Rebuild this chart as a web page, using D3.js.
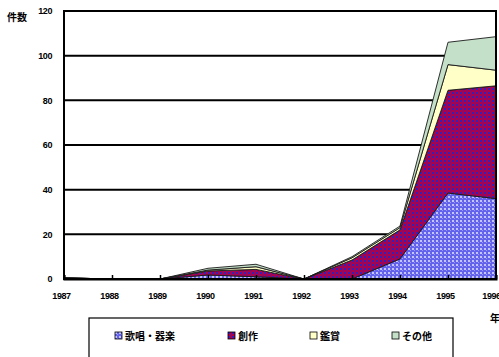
<!DOCTYPE html>
<html>
<head>
<meta charset="utf-8">
<script src="https://cdn.jsdelivr.net/npm/d3@7"></script>
<style>
  html, body { margin: 0; padding: 0; background: #fff; }
  svg { display: block; }
</style>
</head>
<body>
<svg id="chart" width="499" height="357"></svg>
<script>
// 年度別件数（積み上げ面）
const years = ["1987","1988","1989","1990","1991","1992","1993","1994","1995","1996"];
const singing  = [0, 0, 0, 1.8, 1, 0, 0, 9, 38.5, 36];     // 歌唱・器楽
const creation = [0.5, 0, 0, 1.8, 3.3, 0, 8.5, 13, 46, 50.5]; // 創作
const listening = [0, 0, 0, 0.4, 1.2, 0, 1, 1, 11.5, 7];  // 鑑賞
const others   = [0, 0, 0, 0.8, 1.1, 0, 0.5, 0.7, 10, 15]; // その他
const seriesNames = ["歌唱・器楽", "創作", "鑑賞", "その他"];
const yTicks = [0, 20, 40, 60, 80, 100, 120];

const svg = d3.select("#chart");
const margin = { left: 64, right: 3, top: 11, bottom: 78 };
const W = 499, H = 357;

const rows = years.map((y, i) => ({
  year: y,
  "歌唱・器楽": singing[i],
  "創作": creation[i],
  "鑑賞": listening[i],
  "その他": others[i]
}));

const x = d3.scalePoint().domain(years).range([margin.left, W - margin.right]);
const y = d3.scaleLinear().domain([0, 120]).range([H - margin.bottom, margin.top]);

// fill patterns
const defs = svg.append("defs");
const pBlue = defs.append("pattern").attr("id", "pBlue")
  .attr("patternUnits", "userSpaceOnUse").attr("width", 4).attr("height", 4);
pBlue.append("rect").attr("width", 4).attr("height", 4).attr("fill", "#6262ec");
pBlue.append("rect").attr("x", 0).attr("y", 0).attr("width", 2).attr("height", 2).attr("fill", "#c4c4ff");
pBlue.append("rect").attr("x", 2).attr("y", 2).attr("width", 1).attr("height", 1).attr("fill", "#9a9aff");

const pPurple = defs.append("pattern").attr("id", "pPurple")
  .attr("patternUnits", "userSpaceOnUse").attr("width", 4).attr("height", 4);
pPurple.append("rect").attr("width", 4).attr("height", 4).attr("fill", "#b4003c");
pPurple.append("rect").attr("x", 0).attr("y", 0).attr("width", 2).attr("height", 2).attr("fill", "#3020c0");
pPurple.append("rect").attr("x", 2).attr("y", 2).attr("width", 2).attr("height", 2).attr("fill", "#8a0870");

const fills = {
  "歌唱・器楽": "url(#pBlue)",
  "創作": "url(#pPurple)",
  "鑑賞": "#ffffc8",
  "その他": "#c4e0c8"
};

// gridlines
svg.append("g").selectAll("line")
  .data(yTicks.filter(d => d > 0))
  .join("line")
  .attr("x1", margin.left).attr("x2", W - margin.right)
  .attr("y1", d => y(d)).attr("y2", d => y(d))
  .attr("stroke", "#000").attr("stroke-width", 2);

// stacked areas
const stack = d3.stack().keys(seriesNames);
const layers = stack(rows);
const area = d3.area()
  .x(d => x(d.data.year))
  .y0(d => y(d[0]))
  .y1(d => y(d[1]));

svg.append("g").selectAll("path")
  .data(layers)
  .join("path")
  .attr("d", area)
  .attr("fill", d => fills[d.key])
  .attr("stroke", "#1a1a1a")
  .attr("stroke-width", 0.9)
  .attr("stroke-linejoin", "round");

// plot frame
svg.append("rect")
  .attr("x", margin.left).attr("y", margin.top)
  .attr("width", W - margin.right - margin.left)
  .attr("height", y(0) - margin.top)
  .attr("fill", "none").attr("stroke", "#000").attr("stroke-width", 2);

// y axis labels
const yAxis = d3.axisLeft(y).tickValues(yTicks).tickSize(0).tickPadding(12);
const gy = svg.append("g").attr("transform", `translate(${margin.left},0)`).call(yAxis);
gy.select(".domain").remove();
gy.selectAll("text")
  .attr("font-family", "'Liberation Sans', Arial, sans-serif")
  .attr("font-size", 9).attr("font-weight", "bold").attr("fill", "#000")
  .attr("letter-spacing", -0.4);

// x axis with inward ticks
const xAxis = d3.axisBottom(x).tickSize(-4).tickPadding(14);
const gx = svg.append("g").attr("transform", `translate(0,${y(0)})`).call(xAxis);
gx.select(".domain").attr("stroke", "#000").attr("stroke-width", 2);
gx.selectAll(".tick line").attr("stroke", "#000").attr("stroke-width", 1.5);
gx.selectAll("text")
  .attr("font-family", "'Liberation Sans', Arial, sans-serif")
  .attr("font-size", 9).attr("font-weight", "bold").attr("fill", "#000")
  .attr("letter-spacing", -0.4)
  .attr("dx", (d, i) => i === years.length - 1 ? -5 : -3);

// axis titles
svg.append("text").attr("x", 7).attr("y", 21)
  .attr("font-family", "'Noto Sans CJK JP', sans-serif")
  .attr("font-size", 10).attr("font-weight", "bold").text("件数");
svg.append("text").attr("x", 490).attr("y", 322)
  .attr("font-family", "'Noto Sans CJK JP', sans-serif")
  .attr("font-size", 10).attr("font-weight", "bold").text("年度");

// legend
const lg = svg.append("g");
lg.append("rect").attr("x", 89).attr("y", 318).attr("width", 364).attr("height", 60)
  .attr("fill", "#fff").attr("stroke", "#000").attr("stroke-width", 1.2);
const legendX = [115, 228, 310, 392];
const items = lg.selectAll("g.item").data(seriesNames).join("g").attr("class", "item")
  .attr("transform", (d, i) => `translate(${legendX[i]},332)`);
items.append("rect").attr("width", 7).attr("height", 7)
  .attr("fill", d => fills[d]).attr("stroke", "#000").attr("stroke-width", 0.8);
items.append("text").attr("x", 10).attr("y", 8)
  .attr("font-family", "'Noto Sans CJK JP', sans-serif")
  .attr("font-size", 10).attr("font-weight", "bold").text(d => d);
</script>
</body>
</html>
